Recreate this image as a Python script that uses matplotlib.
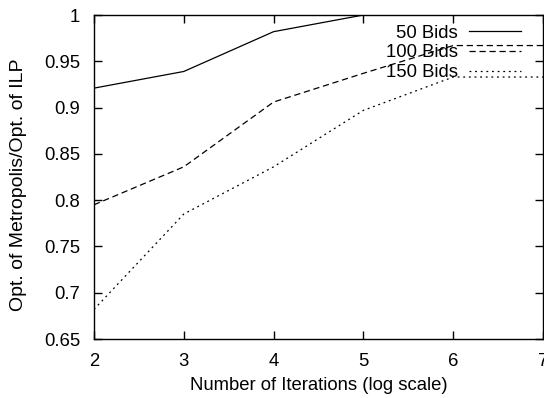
import matplotlib
matplotlib.use('Agg')
from matplotlib import pyplot as plt

# iterations (log scale) and ratio of optima per bid count
iterations = [2, 3, 4, 5, 6, 7]
bids50 = [0.921, 0.939, 0.982, 1.0, 1.0, 1.0]
bids100 = [0.795, 0.836, 0.906, 0.937, 0.967, 0.967]
bids150 = [0.682, 0.785, 0.836, 0.897, 0.933, 0.933]
seriesLabels = ['50 Bids', '100 Bids', '150 Bids']

plt.rcParams['font.family'] = ['Liberation Sans', 'DejaVu Sans']
plt.rcParams['font.size'] = 13.3

fig = plt.figure(figsize=(5.44, 3.98), dpi=100)
ax = fig.add_axes([94 / 544, 1 - 339 / 398, 449 / 544, 324 / 398])

ax.plot(iterations, bids50, color='black', lw=0.9, ls='-', label=seriesLabels[0])
ax.plot(iterations, bids100, color='black', lw=0.9, ls=(0, (5, 3)), label=seriesLabels[1])
ax.plot(iterations, bids150, color='black', lw=0.9, ls=(0, (1.5, 3)), label=seriesLabels[2])

ax.set_xlim(2, 7)
ax.set_ylim(0.65, 1.0)
ax.set_xticks(iterations)
ax.set_xticklabels([str(i) for i in iterations])
yticks = [0.65, 0.7, 0.75, 0.8, 0.85, 0.9, 0.95, 1.0]
ax.set_yticks(yticks)
ax.set_yticklabels(['0.65', '0.7', '0.75', '0.8', '0.85', '0.9', '0.95', '1'])
ax.tick_params(direction='in', length=6, width=1, top=True, right=True, labelsize=13.3)
ax.tick_params(axis='x', pad=10)
ax.tick_params(axis='y', pad=10)
for s in ax.spines.values():
    s.set_linewidth(1)

ax.set_xlabel('Number of Iterations (log scale)', fontsize=13.3)
ax.set_ylabel('Opt. of Metropolis/Opt. of ILP', fontsize=14)
ax.xaxis.set_label_coords(0.5, -0.118)
ax.yaxis.set_label_coords(-0.15, 0.475)

ax.legend(loc='upper right', bbox_to_anchor=((521 - 94) / 449, 0.97),
          frameon=False, markerfirst=False, handlelength=2.8,
          labelspacing=0.15, handletextpad=0.6, borderaxespad=0, borderpad=0,
          fontsize=13.3)

fig.savefig('out.png', dpi=100)
